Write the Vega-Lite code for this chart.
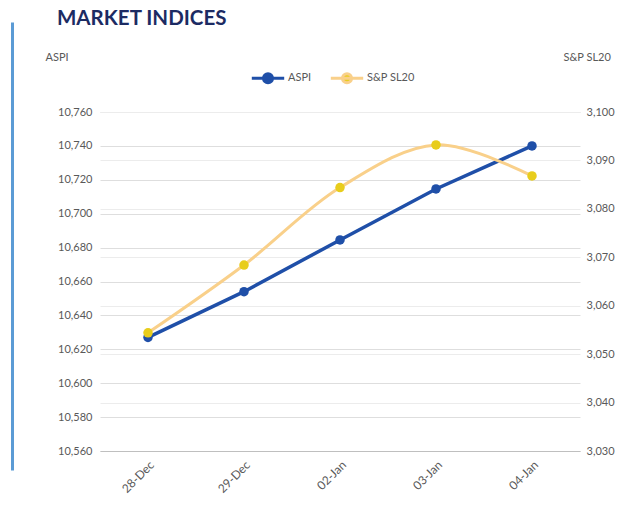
{
  "$schema": "https://vega.github.io/schema/vega-lite/v6.json",
  "autosize": "none",
  "width": 480,
  "height": 339,
  "padding": {"left": 100, "top": 112, "right": 61, "bottom": 58},
  "background": "white",
  "title": {
    "text": "MARKET INDICES",
    "anchor": "start",
    "frame": "group",
    "dx": -43,
    "dy": 10,
    "fontSize": 20.5,
    "fontWeight": "bold",
    "font": "Lato",
    "color": "#1c2b63",
    "offset": 0
  },
  "data": {
    "values": [
      {"date": "28-Dec", "ASPI": 10627, "SP": 3054.4},
      {"date": "29-Dec", "ASPI": 10654, "SP": 3068.4},
      {"date": "02-Jan", "ASPI": 10684.5, "SP": 3084.4},
      {"date": "03-Jan", "ASPI": 10714.6, "SP": 3093.2},
      {"date": "04-Jan", "ASPI": 10740, "SP": 3086.8}
    ]
  },
  "encoding": {
    "x": {
      "field": "date",
      "type": "ordinal",
      "sort": null,
      "axis": {
        "title": null,
        "labelAngle": -45,
        "labelFontSize": 12,
        "labelColor": "#595959",
        "labelFont": "Lato",
        "domainColor": "#bfbfbf",
        "ticks": false,
        "grid": false,
        "labelPadding": 8
      }
    }
  },
  "layer": [
    {
      "encoding": {
        "y": {
          "field": "ASPI",
          "type": "quantitative",
          "scale": {"domain": [10560, 10760], "zero": false, "nice": false},
          "axis": {
            "orient": "left",
            "values": [10560, 10580, 10600, 10620, 10640, 10660, 10680, 10700, 10720, 10740, 10760],
            "format": ",.0f",
            "title": "ASPI",
            "titleAngle": 0,
            "titleAlign": "left",
            "titleBaseline": "middle",
            "titleX": -55,
            "titleY": -55,
            "titleFontWeight": "normal",
            "titleFontSize": 11,
            "titleColor": "#595959",
            "titleFont": "Lato",
            "labelFontSize": 11,
            "labelColor": "#595959",
            "labelFont": "Lato",
            "labelPadding": 8,
            "ticks": false,
            "domain": false,
            "grid": true,
            "gridColor": "#dedede"
          }
        }
      },
      "layer": [
        {
          "mark": {"type": "line", "strokeWidth": 3.5},
          "encoding": {
            "color": {
              "datum": "ASPI",
              "scale": {"domain": ["ASPI", "S&P SL20"], "range": ["#1f4fa8", "#f9d08a"]},
              "legend": {
                "encode": {
                  "symbols": {
                    "update": {
                      "fill": {"signal": "datum.value === 'ASPI' ? '#1f4fa8' : '#e8cd1c'"},
                      "fillOpacity": {"value": 1}
                    }
                  }
                }
              }
            }
          }
        },
        {
          "mark": {"type": "point", "filled": true, "size": 90, "opacity": 1, "color": "#1f4fa8"},
          "encoding": {}
        }
      ]
    },
    {
      "encoding": {
        "y": {
          "field": "SP",
          "type": "quantitative",
          "scale": {"domain": [3030, 3100], "zero": false, "nice": false},
          "axis": {
            "orient": "right",
            "values": [3030, 3040, 3050, 3060, 3070, 3080, 3090, 3100],
            "format": ",.0f",
            "title": "S&P SL20",
            "titleAngle": 0,
            "titleAlign": "left",
            "titleBaseline": "middle",
            "titleX": -17,
            "titleY": -55,
            "titleFontWeight": "normal",
            "titleFontSize": 11,
            "titleColor": "#595959",
            "titleFont": "Lato",
            "labelFontSize": 11,
            "labelColor": "#595959",
            "labelFont": "Lato",
            "labelPadding": 6,
            "ticks": false,
            "domain": false,
            "grid": true,
            "gridColor": "#ececec"
          }
        }
      },
      "layer": [
        {
          "mark": {"type": "line", "strokeWidth": 3, "interpolate": "catmull-rom"},
          "encoding": {"color": {"datum": "S&P SL20"}}
        },
        {
          "mark": {"type": "point", "filled": true, "size": 90, "opacity": 1, "color": "#e8cd1c"},
          "encoding": {}
        }
      ]
    },
    {
      "mark": {"type": "point", "opacity": 0},
      "encoding": {
        "y": {
          "field": "ASPI",
          "type": "quantitative",
          "scale": {"range": [358, -90], "zero": false},
          "axis": {
            "orient": "left",
            "offset": 88,
            "labels": false,
            "ticks": false,
            "grid": false,
            "title": null,
            "domainColor": "#5b9bd5",
            "domainWidth": 3
          }
        }
      }
    }
  ],
  "resolve": {"scale": {"y": "independent"}},
  "config": {
    "view": {"stroke": null},
    "legend": {
      "orient": "none",
      "legendX": 150,
      "legendY": -52,
      "direction": "horizontal",
      "title": null,
      "labelFontSize": 11,
      "labelColor": "#595959",
      "labelFont": "Lato",
      "symbolType": "M-1,0H1M0.28,0A0.28,0.28,0,1,1,-0.28,0A0.28,0.28,0,1,1,0.28,0Z",
      "symbolSize": 1050,
      "symbolStrokeWidth": 3,
      "labelOffset": 2,
      "columnPadding": 12
    }
  }
}
